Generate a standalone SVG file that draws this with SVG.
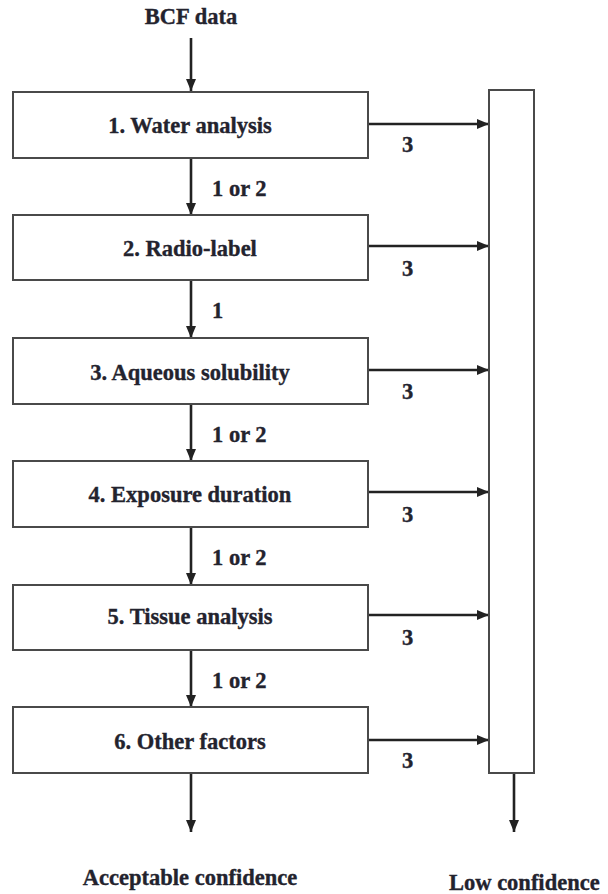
<svg xmlns="http://www.w3.org/2000/svg" width="608" height="894" viewBox="0 0 608 894">
<style>
text{font-family:'Liberation Serif',Tinos,'Times New Roman',Times,serif;font-weight:700;font-size:22.5px;fill:#23232e;stroke:#23232e;stroke-width:0.35}
.c{text-anchor:middle}
.box{fill:#fff;stroke:#4a4a4a;stroke-width:2}
.ln{stroke:#222;stroke-width:2.6;fill:none}
</style>
<defs>
<marker id="ah" viewBox="0 0 12 10" refX="12" refY="5" markerWidth="12" markerHeight="10" markerUnits="userSpaceOnUse" orient="auto">
<path d="M0,0 L12,5 L0,10 z" fill="#222"/>
</marker>
</defs>
<rect width="608" height="894" fill="#fff"/>
<g id="connectors">
<line class="ln" x1="191" y1="38" x2="191" y2="91" marker-end="url(#ah)"/>
<line class="ln" x1="191" y1="158" x2="191" y2="215" marker-end="url(#ah)"/>
<line class="ln" x1="191" y1="280" x2="191" y2="338" marker-end="url(#ah)"/>
<line class="ln" x1="191" y1="404" x2="191" y2="461" marker-end="url(#ah)"/>
<line class="ln" x1="191" y1="527" x2="191" y2="585" marker-end="url(#ah)"/>
<line class="ln" x1="191" y1="650" x2="191" y2="707" marker-end="url(#ah)"/>
<line class="ln" x1="191" y1="773" x2="191" y2="832" marker-end="url(#ah)"/>
<line class="ln" x1="368" y1="124" x2="489" y2="124" marker-end="url(#ah)"/>
<line class="ln" x1="368" y1="246" x2="489" y2="246" marker-end="url(#ah)"/>
<line class="ln" x1="368" y1="370" x2="489" y2="370" marker-end="url(#ah)"/>
<line class="ln" x1="368" y1="492" x2="489" y2="492" marker-end="url(#ah)"/>
<line class="ln" x1="368" y1="615" x2="489" y2="615" marker-end="url(#ah)"/>
<line class="ln" x1="368" y1="740" x2="489" y2="740" marker-end="url(#ah)"/>
<line class="ln" x1="514" y1="773" x2="514" y2="832" marker-end="url(#ah)"/>
<text x="212" y="196">1 or 2</text>
<text x="212" y="318">1</text>
<text x="212" y="442">1 or 2</text>
<text x="212" y="565">1 or 2</text>
<text x="212" y="688">1 or 2</text>
<text x="402" y="152">3</text>
<text x="402" y="276">3</text>
<text x="402" y="399">3</text>
<text x="402" y="522">3</text>
<text x="402" y="645">3</text>
<text x="402" y="768">3</text>
</g>
<g id="start"><text class="c" x="191" y="24">BCF data</text></g>
<g id="n1"><rect class="box" x="13" y="92" width="355" height="66"/><text class="c" x="190" y="133">1. Water analysis</text></g>
<g id="n2"><rect class="box" x="13" y="215" width="355" height="65"/><text class="c" x="190" y="256">2. Radio-label</text></g>
<g id="n3"><rect class="box" x="13" y="338" width="355" height="66"/><text class="c" x="190" y="380">3. Aqueous solubility</text></g>
<g id="n4"><rect class="box" x="13" y="461" width="355" height="66"/><text class="c" x="190" y="502">4. Exposure duration</text></g>
<g id="n5"><rect class="box" x="13" y="585" width="355" height="65"/><text class="c" x="190" y="624">5. Tissue analysis</text></g>
<g id="n6"><rect class="box" x="13" y="707" width="355" height="66"/><text class="c" x="190" y="749">6. Other factors</text></g>
<g id="low"><rect class="box" x="489" y="90" width="45" height="683"/></g>
<g id="out1"><text class="c" x="190" y="885">Acceptable confidence</text></g>
<g id="out2"><text x="449" y="890">Low confidence</text></g>
</svg>
